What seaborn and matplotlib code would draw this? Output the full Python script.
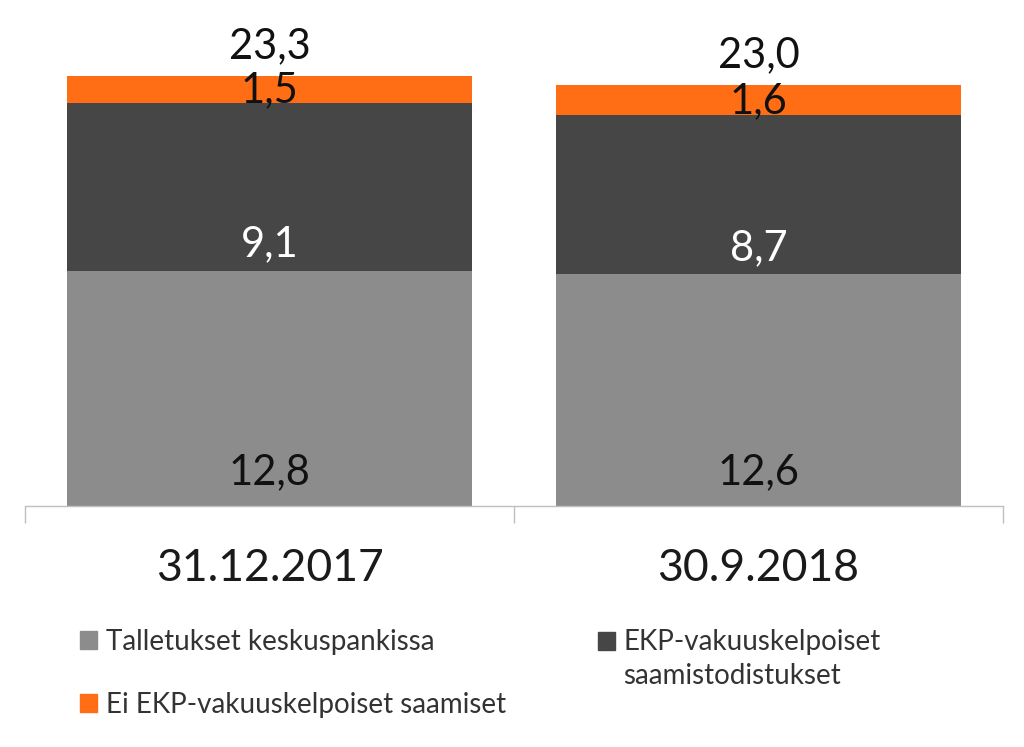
import numpy as np
import pandas as pd
import seaborn as sns
import matplotlib.pyplot as plt
from matplotlib.patches import Patch, Rectangle
from matplotlib.legend_handler import HandlerPatch
from matplotlib.ticker import FixedLocator

dates = ["31.12.2017", "30.9.2018"]
talletukset = [12.8, 12.6]
ekp = [9.1, 8.7]
ei_ekp = [1.5, 1.6]
totals = [23.3, 23.0]
series_names = ["Talletukset keskuspankissa",
                "EKP-vakuuskelpoiset\nsaamistodistukset",
                "Ei EKP-vakuuskelpoiset saamiset"]

sns.set_theme(style="white")
plt.rcParams['font.family'] = ['Lato', 'DejaVu Sans']

c_gray, c_dark, c_orange = "#8c8c8c", "#464646", "#ff6e14"

fig = plt.figure(figsize=(10.24, 7.47), dpi=100)
ax = fig.add_axes([25/1024, 1-506/747, 978/1024, 506/747])

layers = [talletukset, ekp, ei_ekp]
cum = np.cumsum(np.array(layers), axis=0)
colors = [c_gray, c_dark, c_orange]
for i in [2, 1, 0]:
    df = pd.DataFrame({"date": dates, "val": cum[i]})
    sns.barplot(data=df, x="date", y="val", color=colors[i], saturation=1,
                width=0.83, ax=ax, linewidth=0)

ax.set_xlim(-0.5, 1.5)
ax.set_ylim(0, 27.53)
ax.set_xlabel("")
ax.set_ylabel("")
ax.set_yticks([])
for s in ["top", "left", "right"]:
    ax.spines[s].set_visible(False)
ax.spines["bottom"].set_color("#bfbfbf")
ax.spines["bottom"].set_linewidth(1)
ax.xaxis.set_minor_locator(FixedLocator([-0.5, 0.5, 1.5]))
ax.tick_params(axis="x", which="minor", length=12, width=1, color="#bfbfbf", direction="out", bottom=True)
ax.tick_params(axis="x", which="major", length=0, pad=30, labelsize=32, labelcolor="#1a1a1a")

offsets = [11, 5.5, -4]
txtcol = ["#111111", "white", "#111111"]
for j in range(len(dates)):
    bottoms = [0, cum[0][j], cum[1][j]]
    for i, vals in enumerate(layers):
        ax.annotate(f"{vals[j]:.1f}".replace(".", ","), (j, bottoms[i]),
                    xytext=(0, offsets[i]), textcoords="offset points",
                    ha="center", va="bottom", fontsize=30, color=txtcol[i])
    ax.annotate(f"{totals[j]:.1f}".replace(".", ","), (j, cum[2][j]),
                xytext=(0, 21.5), textcoords="offset points",
                ha="center", va="center", fontsize=30, color="#111111")


def top_patch(legend, orig_handle, xdescent, ydescent, width, height, fontsize):
    return Rectangle((-xdescent, -ydescent + 13.7), width, height)


leg_kw = dict(loc="upper left", frameon=False, fontsize=20, handlelength=0.62,
              handleheight=0.62, handletextpad=0.3, labelcolor="#333333")
leg1 = fig.legend([Patch(color=c_gray), Patch(color=c_orange)],
                  [series_names[0], series_names[2]],
                  bbox_to_anchor=(55/1024, 1-604/747), labelspacing=1.32, **leg_kw)
h2 = Patch(color=c_dark)
leg2 = fig.legend([h2], [series_names[1]],
                  bbox_to_anchor=(573/1024, 1-604/747),
                  handler_map={h2: HandlerPatch(patch_func=top_patch)}, **leg_kw)
for t in leg2.get_texts():
    t.set_linespacing(1.4)

fig.savefig("out.png", dpi=100)
